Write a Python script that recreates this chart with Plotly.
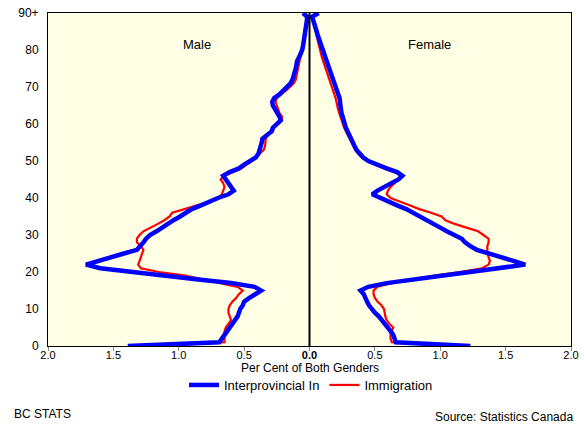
import plotly.graph_objects as go

ages = list(range(91))
age_ticks = [0, 10, 20, 30, 40, 50, 60, 70, 80, 90]
age_tick_labels = ["0", "10", "20", "30", "40", "50", "60", "70", "80", "90+"]
x_ticks = [-2, -1.5, -1, -0.5, 0, 0.5, 1, 1.5, 2]
x_tick_labels = ["2.0", "1.5", "1.0", "0.5", "<b>0.0</b>", "0.5", "1.0", "1.5", "2.0"]

# Interprovincial In, male (per cent of both genders)
inter_male = [1.39, 0.69, 0.67, 0.65, 0.62, 0.60, 0.58, 0.56, 0.55, 0.54,
              0.53, 0.51, 0.50, 0.46, 0.41, 0.37, 0.42, 0.60, 0.85, 1.10,
              1.35, 1.60, 1.71, 1.62, 1.52, 1.42, 1.32, 1.29, 1.27, 1.25,
              1.22, 1.17, 1.13, 1.08, 1.04, 0.99, 0.95, 0.90, 0.83, 0.77,
              0.70, 0.62, 0.58, 0.60, 0.62, 0.65, 0.66, 0.61, 0.54, 0.50,
              0.45, 0.41, 0.39, 0.38, 0.37, 0.365, 0.36, 0.33, 0.29, 0.28,
              0.25, 0.22, 0.23, 0.25, 0.27, 0.28, 0.285, 0.27, 0.23, 0.20,
              0.17, 0.145, 0.13, 0.12, 0.11, 0.105, 0.10, 0.095, 0.08, 0.065,
              0.056, 0.05, 0.045, 0.04, 0.033, 0.03, 0.026, 0.022, 0.02, 0.018,
              0.05]
# Interprovincial In, female
inter_female = [1.23, 0.66, 0.65, 0.64, 0.62, 0.60, 0.57, 0.55, 0.53, 0.50,
                0.475, 0.455, 0.44, 0.43, 0.415, 0.39, 0.45, 0.59, 0.81, 1.02,
                1.24, 1.46, 1.65, 1.56, 1.47, 1.38, 1.28, 1.23, 1.19, 1.165,
                1.10, 1.05, 1.00, 0.95, 0.90, 0.85, 0.80, 0.74, 0.67, 0.60,
                0.53, 0.48, 0.52, 0.58, 0.63, 0.68, 0.71, 0.67, 0.59, 0.52,
                0.45, 0.41, 0.38, 0.36, 0.345, 0.33, 0.315, 0.30, 0.285, 0.278,
                0.27, 0.26, 0.25, 0.245, 0.24, 0.238, 0.237, 0.23, 0.22, 0.21,
                0.20, 0.19, 0.175, 0.165, 0.155, 0.145, 0.135, 0.127, 0.12, 0.11,
                0.10, 0.09, 0.08, 0.07, 0.063, 0.055, 0.047, 0.038, 0.03, 0.02,
                0.07]
# Immigration, male
immig_male = [1.15, 0.65, 0.65, 0.65, 0.65, 0.64, 0.62, 0.60, 0.61, 0.62,
              0.62, 0.61, 0.59, 0.56, 0.54, 0.51, 0.55, 0.68, 0.80, 0.95,
              1.15, 1.29, 1.31, 1.30, 1.29, 1.28, 1.27, 1.29, 1.32, 1.32,
              1.30, 1.27, 1.21, 1.16, 1.11, 1.07, 1.05, 0.96, 0.86, 0.76,
              0.70, 0.67, 0.66, 0.65, 0.66, 0.68, 0.65, 0.58, 0.52, 0.48,
              0.44, 0.41, 0.38, 0.35, 0.34, 0.335, 0.335, 0.32, 0.28, 0.27,
              0.24, 0.21, 0.21, 0.23, 0.24, 0.25, 0.26, 0.25, 0.22, 0.18,
              0.15, 0.12, 0.105, 0.10, 0.095, 0.09, 0.085, 0.08, 0.07, 0.06,
              0.05, 0.045, 0.04, 0.036, 0.032, 0.028, 0.025, 0.021, 0.019, 0.017,
              0.045]
# Immigration, female
immig_female = [1.05, 0.63, 0.62, 0.62, 0.63, 0.64, 0.61, 0.59, 0.58, 0.575,
                0.57, 0.55, 0.52, 0.50, 0.49, 0.49, 0.52, 0.63, 0.78, 0.95,
                1.15, 1.32, 1.37, 1.38, 1.37, 1.36, 1.36, 1.36, 1.37, 1.37,
                1.33, 1.29, 1.20, 1.11, 1.04, 1.01, 0.93, 0.84, 0.77, 0.70,
                0.62, 0.59, 0.60, 0.62, 0.65, 0.68, 0.70, 0.65, 0.57, 0.50,
                0.44, 0.40, 0.37, 0.35, 0.335, 0.32, 0.305, 0.29, 0.275, 0.265,
                0.255, 0.245, 0.235, 0.225, 0.218, 0.212, 0.207, 0.20, 0.19, 0.18,
                0.17, 0.16, 0.15, 0.14, 0.13, 0.12, 0.11, 0.10, 0.095, 0.088,
                0.08, 0.073, 0.066, 0.06, 0.053, 0.047, 0.04, 0.033, 0.026, 0.02,
                0.05]

BLUE = "#0000FF"
RED = "#FF0000"
FONT = "Liberation Sans, Arial, sans-serif"
W, H = 585, 425

fig = go.Figure()
# Immigration (drawn beneath)
fig.add_trace(go.Scatter(x=[-v for v in immig_male], y=ages, mode="lines",
                         line=dict(color=RED, width=2.2), name="Immigration",
                         legendgroup="im", showlegend=True, legendrank=2))
fig.add_trace(go.Scatter(x=immig_female, y=ages, mode="lines",
                         line=dict(color=RED, width=2.2), name="Immigration",
                         legendgroup="im", showlegend=False))
# Interprovincial In
fig.add_trace(go.Scatter(x=[-v for v in inter_male], y=ages, mode="lines",
                         line=dict(color=BLUE, width=4.5), name="Interprovincial In",
                         legendgroup="ip", showlegend=True, legendrank=1))
fig.add_trace(go.Scatter(x=inter_female, y=ages, mode="lines",
                         line=dict(color=BLUE, width=4.5), name="Interprovincial In",
                         legendgroup="ip", showlegend=False))


def cx(px):
    return px / W


def cy(py):
    return 1 - py / H


fig.update_layout(
    width=W, height=H,
    margin=dict(l=48, r=14, t=13, b=79, autoexpand=False),
    paper_bgcolor="white",
    plot_bgcolor="#FFFFE5",
    font=dict(family=FONT, size=11, color="black"),
    showlegend=True,
    legend=dict(orientation="h", xref="container", yref="container",
                x=cx(311), xanchor="center", y=cy(385), yanchor="middle",
                font=dict(size=13, family=FONT), bgcolor="rgba(0,0,0,0)",
                itemwidth=30, tracegroupgap=0),
    shapes=[dict(type="line", xref="x", yref="paper", x0=0, x1=0, y0=0, y1=1,
                 line=dict(color="black", width=2))],
    annotations=[
        dict(text="Male", x=-0.86, y=81.4, xref="x", yref="y", showarrow=False,
             font=dict(size=13, family=FONT)),
        dict(text="Female", x=0.92, y=81.4, xref="x", yref="y", showarrow=False,
             font=dict(size=13, family=FONT)),
        dict(text="Per Cent of Both Genders", x=0.5, y=(346 - 368) / 333,
             xref="paper", yref="paper", showarrow=False,
             font=dict(size=12, family=FONT), yanchor="middle"),
        dict(text="BC STATS", x=(12 - 48) / 523, y=(346 - 414) / 333,
             xref="paper", yref="paper", showarrow=False,
             font=dict(size=12, family=FONT), xanchor="left", yanchor="middle"),
        dict(text="Source: Statistics Canada", x=(575 - 48) / 523, y=(346 - 417) / 333,
             xref="paper", yref="paper", showarrow=False, xanchor="right", yanchor="middle",
             font=dict(size=12, family=FONT)),
    ],
)

fig.update_xaxes(range=[-2, 2], tickvals=x_ticks, ticktext=x_tick_labels,
                 showgrid=False, zeroline=False, showline=True, linecolor="black",
                 linewidth=1, mirror=True, ticks="outside", ticklen=4, tickcolor="#888888",
                 ticklabelstandoff=-5,
                 tickfont=dict(size=11, family=FONT), automargin=False)
fig.update_yaxes(range=[0, 90], tickvals=age_ticks, ticktext=age_tick_labels,
                 showgrid=False, zeroline=False, showline=True, linecolor="black",
                 linewidth=1, mirror=True, ticks="", ticklabelstandoff=6,
                 tickfont=dict(size=12, family=FONT), automargin=False)

fig.write_html("out.html", config={"displayModeBar": False},
               post_script="document.body.style.margin='0px';document.body.style.padding='0px';")
